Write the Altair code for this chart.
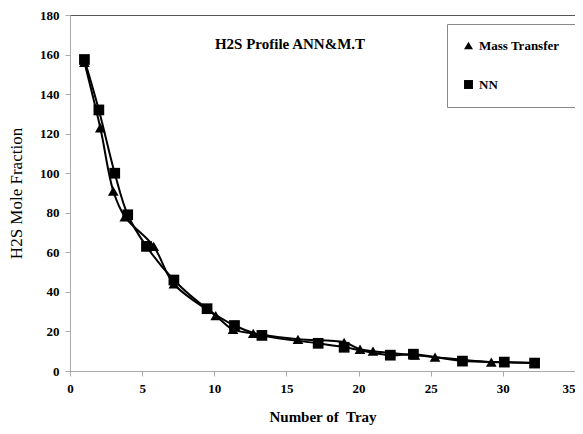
import altair as alt
import pandas as pd

mt_x = [1, 2.1, 3, 3.8, 5.8, 7.2, 10.1, 11.3, 12.7, 15.8, 19, 20.1, 21, 23.9, 25.3, 29.2, 30.1, 32.2]
mt_y = [156, 123, 91, 78, 63, 44, 28, 21, 19, 16, 14.5, 11, 10, 8, 7, 4.5, 4.5, 4]
nn_x = [1, 2, 3.1, 4.0, 5.3, 7.2, 9.5, 11.4, 13.3, 17.2, 19.0, 22.2, 23.8, 27.2, 30.1, 32.2]
nn_y = [157.5, 132, 100, 79, 63, 46, 31.5, 23, 18, 14, 12, 8, 8.5, 5, 4.5, 4]
x_ticks = [0, 5, 10, 15, 20, 25, 30, 35]
y_ticks = [0, 20, 40, 60, 80, 100, 120, 140, 160, 180]

df = pd.concat([
    pd.DataFrame({"x": mt_x, "y": mt_y, "series": "Mass Transfer", "o": range(len(mt_x))}),
    pd.DataFrame({"x": nn_x, "y": nn_y, "series": "NN", "o": range(len(nn_x))}),
])

FONT = "Liberation Serif"

x_axis = alt.Axis(values=x_ticks, title="Number of\u00a0 Tray",
                  titleFontWeight="bold", labelFontWeight="bold", labelOverlap=False, labelFlush=False,
                  labelAlign={"expr": "datum.value >= 35 ? 'right' : 'center'"},
                  titleFontSize=15, labelFontSize=13, titlePadding=14)
y_axis = alt.Axis(values=y_ticks, title="H2S Mole Fraction",
                  titleFontWeight="normal", labelFontWeight="bold", labelOverlap=False, labelFlush=False,
                  titleFontSize=17, labelFontSize=13, titlePadding=14)
xs = alt.X("x:Q", scale=alt.Scale(domain=[0, 35]), axis=x_axis)
ys = alt.Y("y:Q", scale=alt.Scale(domain=[0, 180]), axis=y_axis)

lines = alt.Chart(df).mark_line(interpolate="catmull-rom", color="black", strokeWidth=2).encode(
    x=xs, y=ys, detail="series:N", order="o:Q")

pts = alt.Chart(df).mark_point(filled=True, color="black", opacity=1, size=115).encode(
    x=xs, y=ys,
    shape=alt.Shape("series:N", scale=alt.Scale(domain=["Mass Transfer", "NN"], range=["triangle-up", "square"]),
                    legend=alt.Legend(title=None, orient="none", legendX=377, legendY=9,
                                      strokeColor="#888", fillColor="white", padding=15,
                                      labelFont=FONT, labelFontWeight="bold", labelFontSize=13,
                                      rowPadding=24, symbolFillColor="black", symbolStrokeColor="black",
                                      symbolSize=80, labelLimit=200)),
)

title = alt.Chart(pd.DataFrame({"t": ["H2S Profile ANN&M.T"]})).mark_text(
    font=FONT, fontWeight="bold", fontSize=15, color="black").encode(
    x=alt.value(220), y=alt.value(29), text="t:N")

chart = alt.layer(lines, pts, title).properties(
    width=505, height=356,
    autosize=alt.AutoSizeParams(type="none"),
    padding={"left": 62, "top": 7, "right": 0, "bottom": 55},
).configure(font=FONT).configure_axis(
    grid=False, domainColor="#aaa", tickColor="#aaa", labelColor="black", titleColor="black",
    labelFont=FONT, titleFont=FONT, tickSize=5, labelPadding=6, labelBound=False
).configure_view(stroke="#555", strokeWidth=1)

chart.save("out.html", embed_options={"renderer": "svg", "actions": False})
